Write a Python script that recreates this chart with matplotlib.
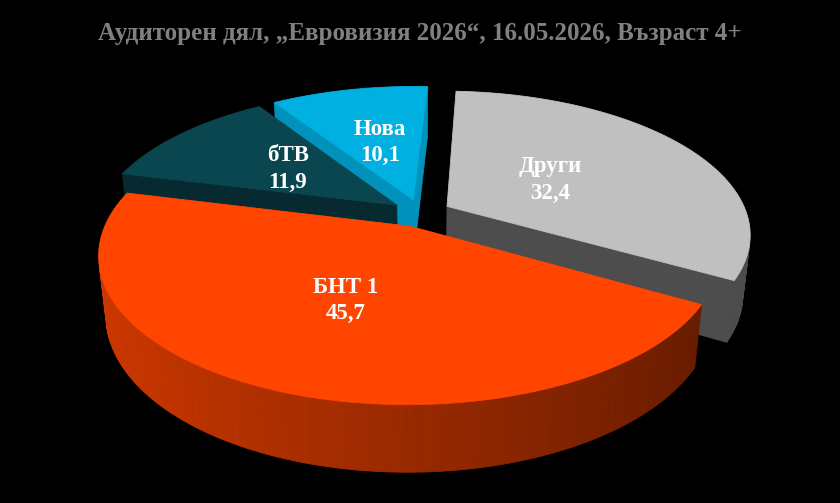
"""
3D pie chart: audience share, Eurovision 2026
"""
import numpy as np
import matplotlib
matplotlib.use('Agg')
import matplotlib.pyplot as plt
from matplotlib.patches import Polygon

title = 'Аудиторен дял, „Евровизия 2026“, 16.05.2026, Възраст 4+'
channels = ['Други', 'БНТ 1', 'бТВ', 'Нова']
shares = [32.4, 45.7, 11.9, 10.1]
share_labels = ['32,4', '45,7', '11,9', '10,1']

top_colors = ['#c0c0c0', '#ff4500', '#0a4650', '#00b0e0']
wall_colors = ['#4d4d4d', '#8a2a00', '#062a30', '#0092ba']
label_r = [0.415, 0.505, 0.48, 0.48]

# view settings (camera looking down at the pie)
ELEV = np.radians(27.7)
DIST = 4.7
FOCAL = 1408.0
THICK = 0.224
CX, CY = 421.0, 213.0
START = 87.0
EXPLODE = 0.1

SIN_E, COS_E = np.sin(ELEV), np.cos(ELEV)
CAMERA = np.array([0.0, -DIST * COS_E, DIST * SIN_E])


def project(x, y, z):
    """
    Project 3D points onto the picture (pixel coords)
    """
    x, y, z = np.asarray(x), np.asarray(y), np.asarray(z)
    yc = y * SIN_E + z * COS_E
    zc = DIST + y * COS_E - z * SIN_E
    return np.column_stack([CX + FOCAL * x / zc, CY - FOCAL * yc / zc])


def visible(point, normal):
    return np.dot(CAMERA - point, normal) > 0


def shade(color, k):
    rgb = np.array(matplotlib.colors.to_rgb(color))
    return tuple(np.clip(rgb * k, 0, 1))


def add_poly(ax, pts, color, z):
    ax.add_patch(Polygon(pts, closed=True, facecolor=color, edgecolor=color,
                         linewidth=0.6, zorder=z))


fig = plt.figure(figsize=(8.4, 5.03), dpi=100)
fig.patch.set_facecolor('black')
ax = fig.add_axes([0, 0, 1, 1])
ax.set_facecolor('black')
ax.set_xlim(0, 840)
ax.set_ylim(503, 0)
ax.axis('off')

total = sum(shares)
slices = []
a = START
for i, v in enumerate(shares):
    span = 360.0 * v / total
    a0, a1 = a, a - span
    mid = np.radians((a0 + a1) / 2)
    off = EXPLODE * np.array([np.cos(mid), np.sin(mid)])
    slices.append((i, np.radians(a0), np.radians(a1), mid, off))
    a = a1

# far slices first
order = sorted(slices, key=lambda s: -s[4][1])
zo = 1
for i, a0, a1, mid, off in order:
    t = np.linspace(a0, a1, 120)
    ox, oy = off
    rx, ry = ox + np.cos(t), oy + np.sin(t)

    # radial walls
    for ang, nrm in ((a0, a0 + np.pi / 2), (a1, a1 - np.pi / 2)):
        ex, ey = ox + np.cos(ang), oy + np.sin(ang)
        n = np.array([np.cos(nrm), np.sin(nrm), 0.0])
        p = np.array([(ox + ex) / 2, (oy + ey) / 2, -THICK / 2])
        if visible(p, n):
            pts = project([ox, ex, ex, ox], [oy, ey, ey, oy],
                          [0, 0, -THICK, -THICK])
            add_poly(ax, pts, wall_colors[i], zo)
            zo += 1

    # outer rim
    for j in range(len(t) - 1):
        tm = (t[j] + t[j + 1]) / 2
        n = np.array([np.cos(tm), np.sin(tm), 0.0])
        p = np.array([ox + np.cos(tm), oy + np.sin(tm), -THICK / 2])
        if not visible(p, n):
            continue
        k = 0.6 - 0.22 * np.cos(tm)
        pts = project([rx[j], rx[j + 1], rx[j + 1], rx[j]],
                      [ry[j], ry[j + 1], ry[j + 1], ry[j]],
                      [0, 0, -THICK, -THICK])
        add_poly(ax, pts, shade(top_colors[i], k), zo)
    zo += 1

    # top face
    pts = project(np.r_[ox, rx], np.r_[oy, ry], np.zeros(len(t) + 1))
    add_poly(ax, pts, top_colors[i], zo)
    zo += 1

for i, a0, a1, mid, off in slices:
    lx = off[0] + label_r[i] * np.cos(mid)
    ly = off[1] + label_r[i] * np.sin(mid)
    px, py = project([lx], [ly], [0.0])[0]
    ax.text(px, py, channels[i] + '\n' + share_labels[i], color='white',
            ha='center', va='center', fontsize=16.5, fontweight='bold',
            family='Liberation Serif', linespacing=1.35, zorder=100)

ax.text(420, 33, title, color='#808080', ha='center', va='center',
        fontsize=18, fontweight='bold', family='Liberation Serif', zorder=100)

fig.savefig('out.png', dpi=100, facecolor='black')
